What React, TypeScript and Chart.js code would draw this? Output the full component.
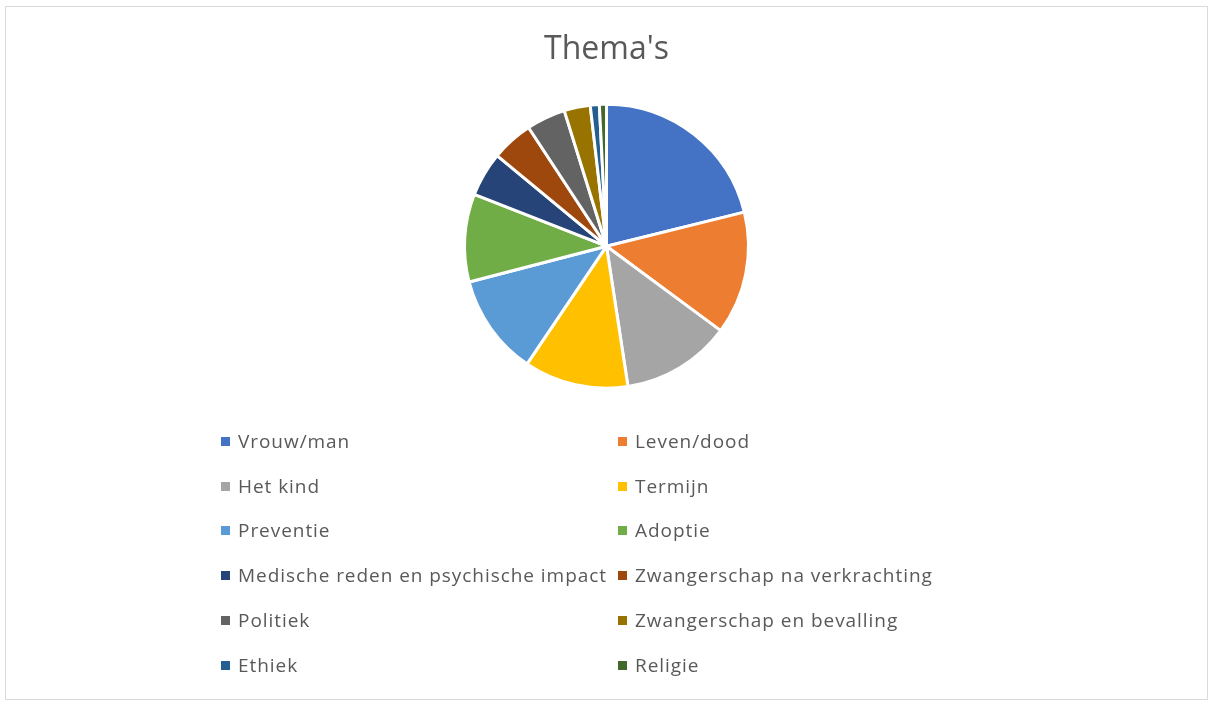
import React, { useEffect, useRef } from "react";
import { Chart, registerables } from "chart.js";

Chart.register(...registerables);

const title = "Thema's";
const categories = [
  "Vrouw/man",
  "Leven/dood",
  "Het kind",
  "Termijn",
  "Preventie",
  "Adoptie",
  "Medische reden en psychische impact",
  "Zwangerschap na verkrachting",
  "Politiek",
  "Zwangerschap en bevalling",
  "Ethiek",
  "Religie",
];
// share of the pie (degrees)
const values = [76.1, 50.4, 44.8, 42.7, 41.4, 36.0, 18.2, 17.1, 16.0, 10.7, 3.7, 2.9];
const colors = [
  "#4472C4",
  "#ED7D31",
  "#A5A5A5",
  "#FFC000",
  "#5B9BD5",
  "#70AD47",
  "#264478",
  "#9E480E",
  "#636363",
  "#997300",
  "#255E91",
  "#43682B",
];

const FONT = "'Open Sans', 'DejaVu Sans', sans-serif";

export default function App() {
  const ref = useRef<HTMLCanvasElement | null>(null);

  useEffect(() => {
    if (!ref.current) return;
    const chart = new Chart(ref.current, {
      type: "pie",
      data: {
        labels: categories,
        datasets: [
          {
            data: values,
            backgroundColor: colors,
            borderColor: "#ffffff",
            borderWidth: 3,
          },
        ],
      },
      options: {
        responsive: false,
        animation: false,
        radius: 142,
        layout: { padding: { top: 0, bottom: 304, left: 0, right: 0 } },
        plugins: {
          legend: { display: false },
          tooltip: { enabled: false },
          title: {
            display: true,
            text: title,
            color: "#595959",
            font: { family: FONT, size: 32, weight: "normal" },
            padding: { top: 24, bottom: 28 },
          },
        },
      } as any,
    });
    return () => chart.destroy();
  }, []);

  const rowY = [441, 486, 530, 575, 620, 665];
  const colX = [221, 618];

  return (
    <div
      style={{
        position: "absolute",
        left: 0,
        top: 0,
        width: 1211,
        height: 702,
        background: "#fff",
      }}
    >
      <div
        style={{
          position: "absolute",
          left: 5,
          top: 6,
          width: 1203,
          height: 694,
          border: "1px solid #d9d9d9",
          boxSizing: "border-box",
        }}
      >
        <canvas ref={ref} width={1201} height={692} style={{ display: "block" }} />
      </div>
      {categories.map((c, i) => {
        const col = i % 2;
        const row = Math.floor(i / 2);
        const x = colX[col];
        const y = rowY[row];
        return (
          <div key={c}>
            <div
              style={{
                position: "absolute",
                left: x,
                top: y - 4,
                width: 9,
                height: 9,
                background: colors[i],
              }}
            />
            <div
              style={{
                position: "absolute",
                left: x + 17,
                top: y - 13,
                height: 26,
                lineHeight: "26px",
                fontFamily: FONT,
                fontSize: 19,
                letterSpacing: "0.95px",
                color: "#595959",
                whiteSpace: "nowrap",
              }}
            >
              {c}
            </div>
          </div>
        );
      })}
    </div>
  );
}
